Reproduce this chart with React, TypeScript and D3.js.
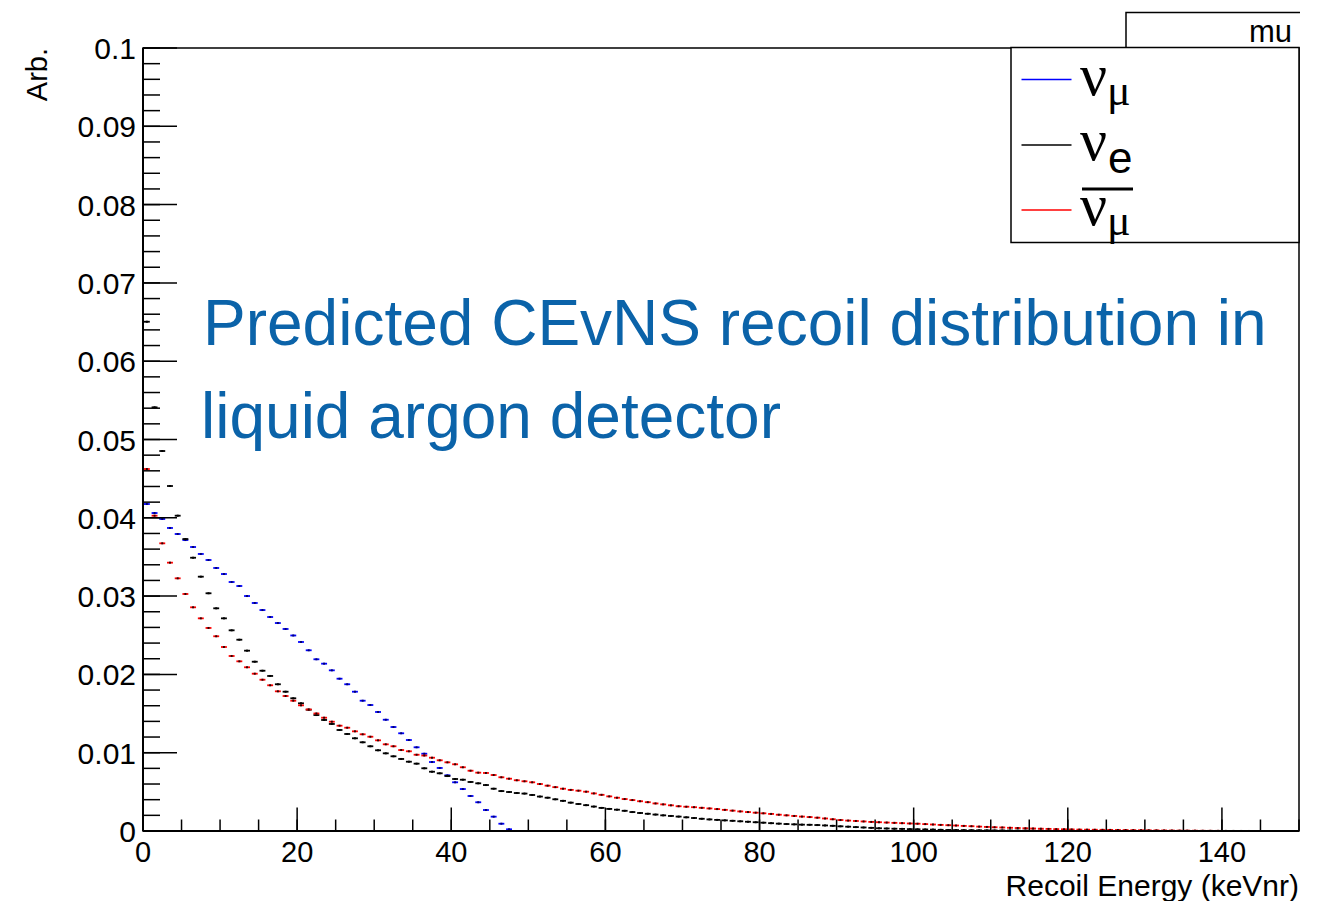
import React from "react";
import * as d3 from "d3";

// Recoil spectra, 1 keVnr bins starting at 0 (normalised, arbitrary units)
const numuValues = [
  0.04176, 0.04061, 0.03985, 0.0387, 0.03793, 0.03716, 0.03627, 0.03538, 0.03461, 0.03359,
  0.03282, 0.0318, 0.03129, 0.03001, 0.02912, 0.02822, 0.02733, 0.02656, 0.0258, 0.02497,
  0.02414, 0.02308, 0.02193, 0.02137, 0.02052, 0.01945, 0.01874, 0.01779, 0.01664, 0.01609,
  0.0152, 0.01421, 0.01328, 0.01248, 0.01162, 0.01069, 0.00987, 0.00881, 0.00805, 0.00711,
  0.00622, 0.00536, 0.00447, 0.00367, 0.00268, 0.00183, 0.00093, 0.00022,
];

const nueValues = [
  0.06504, 0.05411, 0.04853, 0.04406, 0.04027, 0.03729, 0.0349, 0.03248, 0.03036, 0.02844,
  0.02716, 0.02563, 0.02443, 0.02303, 0.02162, 0.02047, 0.0198, 0.01874, 0.01779, 0.01695,
  0.01631, 0.01549, 0.01481, 0.01418, 0.01367, 0.0129, 0.01239, 0.01184, 0.01133, 0.01082,
  0.01031, 0.00992, 0.00954, 0.0092, 0.00885, 0.0086, 0.00801, 0.00757, 0.00737, 0.00702,
  0.00664, 0.00655, 0.00626, 0.00609, 0.00587, 0.0054, 0.0051, 0.00498, 0.00485, 0.00478,
  0.0046, 0.0044, 0.00425, 0.00405, 0.00385, 0.00362, 0.00345, 0.0033, 0.00312, 0.00295,
  0.00282, 0.00272, 0.00258, 0.00242, 0.0023, 0.0022, 0.0021, 0.002, 0.00192, 0.00184,
  0.00175, 0.00166, 0.00156, 0.00148, 0.00142, 0.00136, 0.0013, 0.00124, 0.00118, 0.00112,
  0.00106, 0.001, 0.00094, 0.00089, 0.00085, 0.00081, 0.00079, 0.00076, 0.00071, 0.00066,
  0.0006, 0.00055, 0.0005, 0.00045, 0.0004, 0.00035, 0.00032, 0.00029, 0.00027, 0.00024,
  0.00022, 0.0002, 0.00018, 0.00015, 0.00013, 0.00012, 0.00011, 0.0001, 0.00009, 0.00008,
  0.00007, 0.00007, 0.00006, 0.00005, 0.00005, 0.00004, 0.00004, 0.00003, 0.00003, 0.00003,
  0.00002, 0.00002, 0.00002, 0.00002, 0.000014, 0.000012, 0.000011, 0.00001, 0.000009, 0.000008,
  0.000007, 0.000006, 0.0000055, 0.000005, 0.000004, 0.0000035, 0.000003, 0.0000025, 0.000002, 0.0000016,
  0.0000012, 0.0000008, 0.0000005, 0.0000002,
];

const numubarValues = [
  0.04623, 0.04027, 0.03674, 0.03427, 0.03227, 0.03027, 0.02857, 0.02716, 0.02593, 0.02487,
  0.0235, 0.02235, 0.02167, 0.02091, 0.02009, 0.01932, 0.01861, 0.01784, 0.01724, 0.01664,
  0.01605, 0.01552, 0.01501, 0.01447, 0.01396, 0.01345, 0.01319, 0.01273, 0.01235, 0.01204,
  0.01158, 0.01107, 0.01082, 0.01034, 0.01018, 0.00974, 0.00964, 0.00936, 0.00903, 0.00877,
  0.00852, 0.00814, 0.0077, 0.00745, 0.00741, 0.00715, 0.00686, 0.00668, 0.00648, 0.00635,
  0.00622, 0.006, 0.00579, 0.0056, 0.0054, 0.00525, 0.00515, 0.00502, 0.0048, 0.00462,
  0.00442, 0.00425, 0.00408, 0.00395, 0.0038, 0.00368, 0.00352, 0.0034, 0.00328, 0.00316,
  0.0031, 0.00304, 0.00296, 0.00288, 0.0028, 0.0027, 0.0026, 0.0025, 0.00242, 0.00234,
  0.00226, 0.00218, 0.00208, 0.002, 0.00192, 0.00184, 0.00178, 0.0017, 0.0016, 0.0015,
  0.0014, 0.00133, 0.00128, 0.00122, 0.00116, 0.00112, 0.00108, 0.00104, 0.001, 0.00096,
  0.00093, 0.00088, 0.00083, 0.00078, 0.00074, 0.0007, 0.00065, 0.00061, 0.00056, 0.00052,
  0.00048, 0.00045, 0.00041, 0.00038, 0.00035, 0.00032, 0.00029, 0.00027, 0.00024, 0.00022,
  0.0002, 0.00018, 0.00017, 0.00016, 0.00015, 0.00014, 0.00013, 0.00012, 0.00011, 0.0001,
  0.00009, 0.00008, 0.00007, 0.00006, 0.00005, 0.000045, 0.00004, 0.00003, 0.000025, 0.00002,
  0.000015, 0.00001, 0.000006, 0.000003,
];

const xTickLabels = ["0", "20", "40", "60", "80", "100", "120", "140"];
const yTickLabels = ["0", "0.01", "0.02", "0.03", "0.04", "0.05", "0.06", "0.07", "0.08", "0.09", "0.1"];

const series = [
  { name: "numu", values: numuValues, color: "#0000ff", marker: "#000070" },
  { name: "nue", values: nueValues, color: "#000000", marker: "#000000" },
  { name: "numubar", values: numubarValues, color: "#ff0000", marker: "#300000" },
];

const W = 1329;
const H = 901;
const frame = { left: 143, right: 1299, top: 48, bottom: 831 };
const SANS = "'Liberation Sans', Arial, Helvetica, sans-serif";
const SERIF = "'Liberation Serif', 'Times New Roman', serif";

export default function App() {
  const x = d3.scaleLinear().domain([0, 150]).range([frame.left, frame.right]);
  const y = d3.scaleLinear().domain([0, 0.1]).range([frame.bottom, frame.top]);

  const xMajor = d3.range(0, 8).map((i) => i * 20);
  const xMinor = d3.range(0, 31).map((i) => i * 5);
  const yMajor = d3.range(0, 11).map((i) => i * 0.01);
  const yMinor = d3.range(0, 51).map((i) => i * 0.002);

  const legendRows = [
    { color: "#0000ff", ly: 79.5, base: 95, sub: "\u03bc", subFont: SERIF, subSize: 44, subDy: 10, subDx: 27, bar: false },
    { color: "#000000", ly: 145, base: 160, sub: "e", subFont: SANS, subSize: 44, subDy: 12.5, subDx: 28, bar: false },
    { color: "#ff0000", ly: 210, base: 225, sub: "\u03bc", subFont: SERIF, subSize: 44, subDy: 10, subDx: 27, bar: true },
  ];

  return (
    <svg
      width={W}
      height={H}
      viewBox={`0 0 ${W} ${H}`}
      style={{ position: "absolute", left: 0, top: 0, background: "#fff" }}
    >
      <rect x={0} y={0} width={W} height={H} fill="#fff" />

      {/* frame */}
      <rect
        x={frame.left}
        y={frame.top}
        width={frame.right - frame.left}
        height={frame.bottom - frame.top}
        fill="none"
        stroke="#000"
        strokeWidth={1.5}
      />

      {/* histogram bins: horizontal bar across each bin with a central marker */}
      {series.map((s) => (
        <g key={s.name}>
          {s.values.map((v, i) =>
            v > 0 ? (
              <g key={i}>
                <line
                  x1={x(i) + 0.9}
                  x2={x(i + 1) - 0.9}
                  y1={y(v)}
                  y2={y(v)}
                  stroke={s.color}
                  strokeWidth={1.8}
                />
                <rect x={x(i + 0.5) - 1} y={y(v) - 1} width={2} height={2} fill={s.marker} />
              </g>
            ) : null
          )}
        </g>
      ))}

      {/* y axis */}
      <line x1={frame.left} x2={frame.left} y1={frame.top} y2={frame.bottom} stroke="#000" strokeWidth={2} />
      {yMinor.map((t, i) => (
        <line key={`ym${i}`} x1={frame.left} x2={frame.left + 17} y1={y(t)} y2={y(t)} stroke="#000" strokeWidth={1.5} />
      ))}
      {yMajor.map((t, i) => (
        <line key={`yM${i}`} x1={frame.left} x2={frame.left + 34} y1={y(t)} y2={y(t)} stroke="#000" strokeWidth={1.5} />
      ))}
      {yMajor.map((t, i) => (
        <text
          key={`yl${i}`}
          x={136}
          y={y(t) + 11}
          textAnchor="end"
          fontFamily={SANS}
          fontSize={30}
          fill="#000"
        >
          {yTickLabels[i]}
        </text>
      ))}
      <text
        transform="translate(47,48) rotate(-90)"
        textAnchor="end"
        fontFamily={SANS}
        fontSize={29}
        fill="#000"
      >
        Arb.
      </text>

      {/* x axis */}
      <line x1={frame.left} x2={frame.right} y1={frame.bottom} y2={frame.bottom} stroke="#000" strokeWidth={2} />
      {xMinor.map((t, i) => (
        <line key={`xm${i}`} x1={x(t)} x2={x(t)} y1={frame.bottom} y2={frame.bottom - 11.5} stroke="#000" strokeWidth={1.5} />
      ))}
      {xMajor.map((t, i) => (
        <line key={`xM${i}`} x1={x(t)} x2={x(t)} y1={frame.bottom} y2={frame.bottom - 23.5} stroke="#000" strokeWidth={1.5} />
      ))}
      {xMajor.map((t, i) => (
        <text
          key={`xl${i}`}
          x={x(t)}
          y={862}
          textAnchor="middle"
          fontFamily={SANS}
          fontSize={29}
          fill="#000"
        >
          {xTickLabels[i]}
        </text>
      ))}
      <text x={1299} y={895.5} textAnchor="end" fontFamily={SANS} fontSize={30} fill="#000">
        Recoil Energy (keVnr)
      </text>

      {/* annotation */}
      <text x={203} y={345} fontFamily={SANS} fontSize={64} fill="#0b63a9">
        Predicted CEvNS recoil distribution in
      </text>
      <text x={201} y={438} fontFamily={SANS} fontSize={64} fill="#0b63a9">
        liquid argon detector
      </text>

      {/* title box */}
      <path d="M1126,47 L1126,12.5 L1300,12.5" fill="none" stroke="#000" strokeWidth={1.5} />
      <text x={1292} y={42} textAnchor="end" fontFamily={SANS} fontSize={31} fill="#000">
        mu
      </text>

      {/* legend */}
      <rect x={1011} y={47.5} width={288} height={195} fill="#fff" stroke="#000" strokeWidth={1.5} />
      {legendRows.map((r, i) => (
        <g key={`lg${i}`}>
          <line x1={1021.5} x2={1071.5} y1={r.ly} y2={r.ly} stroke={r.color} strokeWidth={1.5} />
          <text x={1080} y={r.base} fontFamily={SERIF} fontSize={60} fill="#000">
            {"\u03bd"}
          </text>
          <text x={1080 + r.subDx} y={r.base + r.subDy} fontFamily={r.subFont} fontSize={r.subSize} fill="#000">
            {r.sub}
          </text>
          {r.bar ? <line x1={1082} x2={1133} y1={189} y2={189} stroke="#000" strokeWidth={3} /> : null}
        </g>
      ))}
    </svg>
  );
}
